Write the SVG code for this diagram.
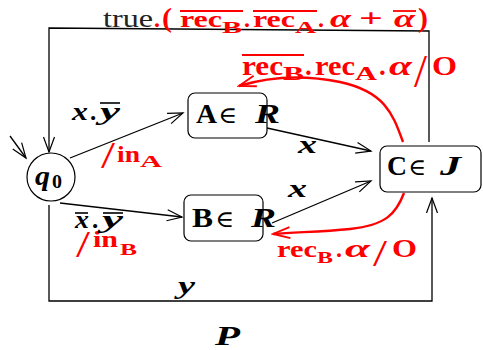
<svg xmlns="http://www.w3.org/2000/svg" width="483" height="350" viewBox="0 0 483 350">
<defs>
<style>
.ln{fill:none;stroke:#000;stroke-width:1.3}
.rl{fill:none;stroke:#f00;stroke-width:2.4}
.box{fill:#fff;stroke:#000;stroke-width:1.2}
.mi{font-family:"Liberation Serif","DejaVu Serif",serif;font-weight:bold;font-style:italic}
.bf{font-family:"Liberation Serif","DejaVu Serif",serif;font-weight:bold}
.rm{font-family:"Liberation Serif","DejaVu Serif",serif}
.sym{font-family:"DejaVu Serif",serif}
.red{fill:#f00}
.ov{stroke:#000;stroke-width:1.6}
.ovr{stroke:#f00;stroke-width:1.8}
</style>
<marker id="ah" markerUnits="userSpaceOnUse" markerWidth="18" markerHeight="14" viewBox="0 0 18 14" refX="16" refY="7" orient="auto">
<path d="M1,1.5 L16,7 L1,12.5" fill="none" stroke="#000" stroke-width="1.2"/>
</marker>
<marker id="ahr" markerUnits="userSpaceOnUse" markerWidth="20" markerHeight="14" viewBox="0 0 20 14" refX="18" refY="7" orient="auto">
<path d="M1,1.5 L18,7 L1,12.5" fill="none" stroke="#f00" stroke-width="1.8"/>
</marker>
</defs>
<rect width="483" height="350" fill="#fff"/>

<g id="connectors">
<path class="ln" d="M429,142 L429,31 L49,28 L49,152" marker-end="url(#ah)"/>
<path class="ln" d="M49,205 L49,301 L432,301 L432,198" marker-end="url(#ah)"/>
<path class="ln" d="M10,136 L26,158" marker-end="url(#ah)"/>
<path class="ln" d="M70,158 L183,113" marker-end="url(#ah)"/>
<path class="ln" d="M60,203 L182,217" marker-end="url(#ah)"/>
<path class="ln" d="M267,128 L371,151" marker-end="url(#ah)"/>
<path class="ln" d="M272,223 L371,181" marker-end="url(#ah)"/>
<path class="rl" d="M403,142 C393,115 386,92 340,82 C300,74 265,78 239,86" marker-end="url(#ahr)"/>
<path class="rl" d="M404,193 C396,214 386,225 350,229 C320,232 296,232 273,234" marker-end="url(#ahr)"/>
</g>

<g id="q0">
<circle cx="51" cy="177" r="24" fill="#fff" stroke="#000" stroke-width="1.2"/>
<text class="mi" x="35" y="185" font-size="27" textLength="15" lengthAdjust="spacingAndGlyphs">q</text>
<text class="bf" x="52" y="188" font-size="19" textLength="10" lengthAdjust="spacingAndGlyphs">0</text>
</g>

<g id="A">
<rect class="box" x="188" y="93" width="79" height="45" rx="7"/>
<text class="bf" x="196" y="123" font-size="27" textLength="21" lengthAdjust="spacingAndGlyphs">A</text>
<text class="sym" x="218" y="123" font-size="23" textLength="19" lengthAdjust="spacingAndGlyphs">∈</text>
<text class="mi" x="255" y="123" font-size="27" textLength="25" lengthAdjust="spacingAndGlyphs">R</text>
</g>

<g id="B">
<rect class="box" x="184" y="195" width="79" height="46" rx="7"/>
<text class="bf" x="192" y="227" font-size="27" textLength="21" lengthAdjust="spacingAndGlyphs">B</text>
<text class="sym" x="215" y="227" font-size="23" textLength="19" lengthAdjust="spacingAndGlyphs">∈</text>
<text class="mi" x="251" y="227" font-size="27" textLength="25" lengthAdjust="spacingAndGlyphs">R</text>
</g>

<g id="C">
<rect class="box" x="380" y="146" width="101" height="46" rx="7"/>
<text class="bf" x="387" y="175" font-size="27" textLength="20" lengthAdjust="spacingAndGlyphs">C</text>
<text class="sym" x="408" y="175" font-size="23" textLength="18" lengthAdjust="spacingAndGlyphs">∈</text>
<text class="mi" x="440" y="175" font-size="27" textLength="21" lengthAdjust="spacingAndGlyphs">J</text>
</g>

<g id="labels">
<!-- top label -->
<text class="rm" x="103" y="27" font-size="26" fill="#222" textLength="50" lengthAdjust="spacingAndGlyphs">true</text>
<text class="bf red" x="154" y="27" font-size="24">.</text>
<text class="bf red" x="162" y="27" font-size="28" textLength="10" lengthAdjust="spacingAndGlyphs">(</text>
<text class="bf red" x="180" y="27" font-size="24" textLength="42" lengthAdjust="spacingAndGlyphs">rec</text>
<text class="bf red" x="222" y="33" font-size="17" textLength="20" lengthAdjust="spacingAndGlyphs">B</text>
<text class="bf red" x="244" y="27" font-size="24">.</text>
<text class="bf red" x="253" y="27" font-size="24" textLength="42" lengthAdjust="spacingAndGlyphs">rec</text>
<text class="bf red" x="295" y="33" font-size="17" textLength="21" lengthAdjust="spacingAndGlyphs">A</text>
<text class="bf red" x="318" y="27" font-size="24">.</text>
<text class="mi red" x="330" y="27" font-size="26" textLength="21" lengthAdjust="spacingAndGlyphs">α</text>
<text class="bf red" x="359" y="27" font-size="26" textLength="24" lengthAdjust="spacingAndGlyphs">+</text>
<text class="mi red" x="394" y="27" font-size="26" textLength="21" lengthAdjust="spacingAndGlyphs">α</text>
<text class="bf red" x="418" y="27" font-size="28" textLength="10" lengthAdjust="spacingAndGlyphs">)</text>
<line class="ovr" x1="180" y1="11" x2="243" y2="11"/>
<line class="ovr" x1="253" y1="11" x2="317" y2="11"/>
<line class="ovr" x1="393" y1="11" x2="416" y2="11"/>

<!-- upper red label -->
<text class="bf red" x="242" y="75" font-size="27" textLength="41" lengthAdjust="spacingAndGlyphs">rec</text>
<text class="bf red" x="283" y="80" font-size="19" textLength="21" lengthAdjust="spacingAndGlyphs">B</text>
<text class="bf red" x="305" y="75" font-size="27">.</text>
<text class="bf red" x="315" y="75" font-size="27" textLength="40" lengthAdjust="spacingAndGlyphs">rec</text>
<text class="bf red" x="355" y="80" font-size="19" textLength="22" lengthAdjust="spacingAndGlyphs">A</text>
<text class="bf red" x="379" y="75" font-size="27">.</text>
<text class="mi red" x="389" y="75" font-size="28" textLength="23" lengthAdjust="spacingAndGlyphs">α</text>
<text class="rm red" x="414" y="87" font-size="46" textLength="13" lengthAdjust="spacingAndGlyphs">/</text>
<text class="bf red" x="432" y="75" font-size="28" textLength="25" lengthAdjust="spacingAndGlyphs">O</text>
<line class="ovr" x1="242" y1="55" x2="304" y2="55"/>

<!-- lower red label -->
<text class="bf red" x="277" y="257" font-size="24" textLength="40" lengthAdjust="spacingAndGlyphs">rec</text>
<text class="bf red" x="317" y="263" font-size="17" textLength="16" lengthAdjust="spacingAndGlyphs">B</text>
<text class="bf red" x="336" y="257" font-size="24">.</text>
<text class="mi red" x="345" y="257" font-size="25" textLength="25" lengthAdjust="spacingAndGlyphs">α</text>
<text class="rm red" x="373" y="266" font-size="38" textLength="14" lengthAdjust="spacingAndGlyphs">/</text>
<text class="bf red" x="392" y="257" font-size="25" textLength="25" lengthAdjust="spacingAndGlyphs">O</text>

<!-- /in_A -->
<text class="rm red" x="101" y="168" font-size="38" textLength="14" lengthAdjust="spacingAndGlyphs">/</text>
<text class="bf red" x="117" y="162" font-size="24" textLength="23" lengthAdjust="spacingAndGlyphs">in</text>
<text class="bf red" x="140" y="167" font-size="17" textLength="22" lengthAdjust="spacingAndGlyphs">A</text>

<!-- /in_B -->
<text class="rm red" x="76" y="257" font-size="38" textLength="14" lengthAdjust="spacingAndGlyphs">/</text>
<text class="bf red" x="93" y="247" font-size="24" textLength="25" lengthAdjust="spacingAndGlyphs">in</text>
<text class="bf red" x="120" y="255" font-size="17" textLength="17" lengthAdjust="spacingAndGlyphs">B</text>

<!-- x.ybar -->
<text class="mi" x="72" y="120" font-size="25" textLength="16" lengthAdjust="spacingAndGlyphs">x</text>
<text class="bf" x="90" y="120" font-size="25">.</text>
<text class="mi" x="100" y="120" font-size="25" textLength="20" lengthAdjust="spacingAndGlyphs">y</text>
<line class="ov" x1="100" y1="103" x2="120" y2="103"/>

<!-- xbar.ybar -->
<text class="mi" x="75" y="228" font-size="25" textLength="14" lengthAdjust="spacingAndGlyphs">x</text>
<text class="bf" x="92" y="228" font-size="25">.</text>
<text class="mi" x="102" y="228" font-size="25" textLength="21" lengthAdjust="spacingAndGlyphs">y</text>
<line class="ov" x1="75" y1="213" x2="88" y2="213"/>
<line class="ov" x1="103" y1="213" x2="123" y2="213"/>

<text class="mi" x="298" y="153" font-size="25" textLength="19" lengthAdjust="spacingAndGlyphs">x</text>
<text class="mi" x="288" y="197" font-size="25" textLength="19" lengthAdjust="spacingAndGlyphs">x</text>
<text class="mi" x="178" y="294" font-size="25" textLength="17" lengthAdjust="spacingAndGlyphs">y</text>
<text class="mi" x="215" y="345" font-size="28" textLength="25" lengthAdjust="spacingAndGlyphs">P</text>
</g>
</svg>
